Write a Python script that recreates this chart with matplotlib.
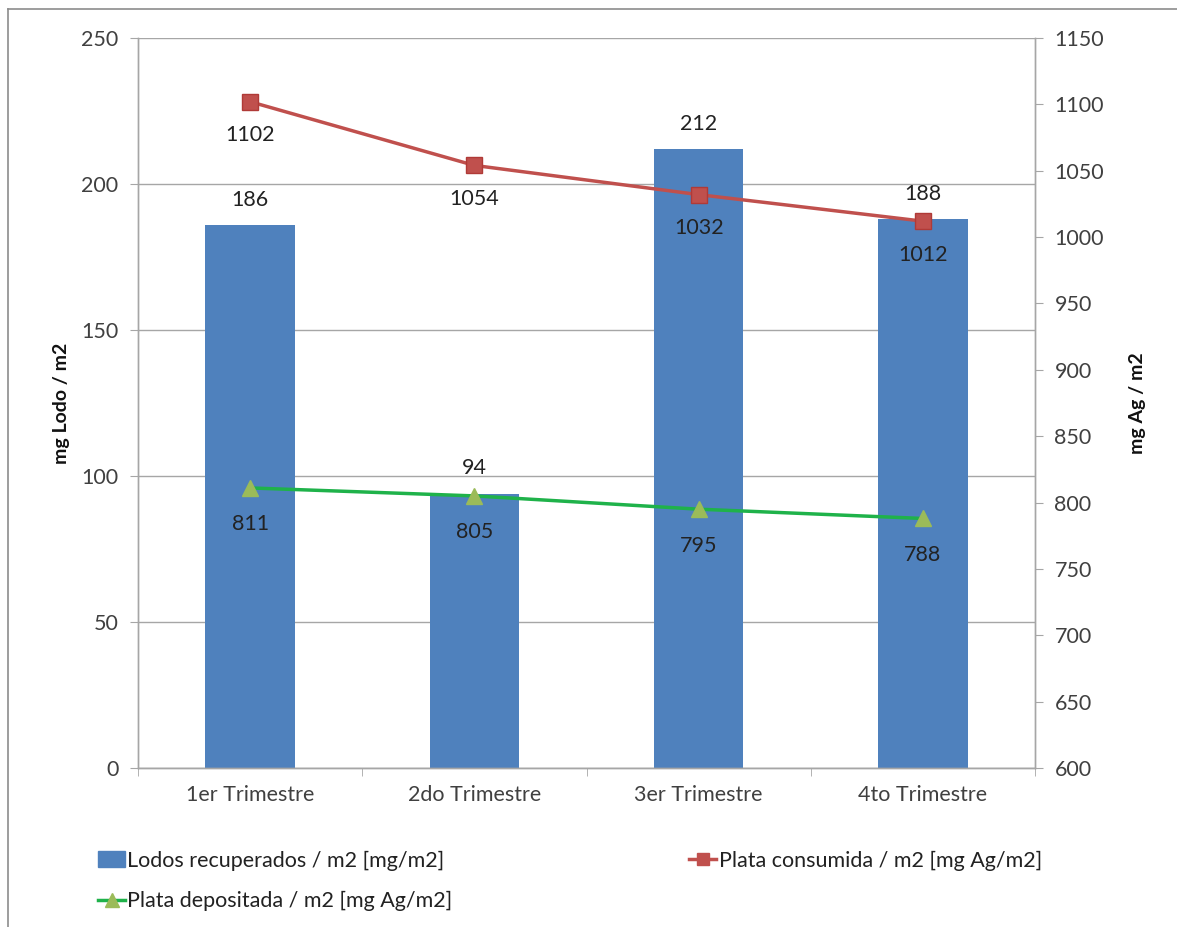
import matplotlib
matplotlib.use("Agg")
import matplotlib.pyplot as plt
import matplotlib.ticker as mticker
from matplotlib.lines import Line2D
import numpy as np

categories = ["1er Trimestre", "2do Trimestre", "3er Trimestre", "4to Trimestre"]
lodos = [186, 94, 212, 188]
plata_consumida = [1102, 1054, 1032, 1012]
plata_depositada = [811, 805, 795, 788]

plt.rcParams["font.family"] = ["Lato", "DejaVu Sans"]
text_color = "#404040"
grid_color = "#a6a6a6"
bar_color = "#4f81bd"
red = "#c0504d"
green = "#1fb24a"
tri_color = "#9bbb59"
fs = 15.5

fig = plt.figure(figsize=(11.77, 9.27), dpi=100)
ax = fig.add_axes([138 / 1177, 1 - 768 / 927, (1035 - 138) / 1177, (768 - 38) / 927])
ax2 = ax.twinx()

x = np.arange(len(categories))

# bars on left axis
ax.bar(x, lodos, width=0.4, color=bar_color, zorder=2)
for xi, v in zip(x, lodos):
    ax.annotate(f"{v}", xy=(xi, v), xytext=(0, 11), textcoords="offset points",
                ha="center", va="bottom", fontsize=fs, color="#222222")

ax.set_ylim(0, 250)
ax.set_xlim(-0.5, len(categories) - 0.5)
ax.yaxis.set_major_locator(mticker.MultipleLocator(50))
ax.grid(axis="y", color=grid_color, linewidth=1, zorder=0)
ax.set_axisbelow(True)
ax.set_xticks(x)
ax.set_xticklabels(categories)
ax.set_xticks(np.arange(len(categories) + 1) - 0.5, minor=True)
ax.tick_params(axis="x", which="major", length=0, pad=12, labelsize=fs, labelcolor=text_color)
ax.tick_params(axis="x", which="minor", length=6, color=grid_color, direction="out")
ax.tick_params(axis="y", length=6, color=grid_color, pad=8, labelsize=fs, labelcolor=text_color)
ax.set_ylabel("mg Lodo / m2", fontsize=14, fontweight="bold", color="#111111", labelpad=8)

# lines on right axis
ax2.plot(x, plata_consumida, color=red, linewidth=2.5, marker="s", markersize=11,
         markerfacecolor=red, markeredgecolor="#b03a37", zorder=4)
ax2.plot(x, plata_depositada, color=green, linewidth=2.5, marker="^", markersize=12,
         markerfacecolor=tri_color, markeredgecolor=tri_color, zorder=4)
for xi, v in zip(x, plata_consumida):
    ax2.annotate(f"{v}", xy=(xi, v), xytext=(0, -17), textcoords="offset points",
                 ha="center", va="top", fontsize=fs, color="#222222")
for xi, v in zip(x, plata_depositada):
    ax2.annotate(f"{v}", xy=(xi, v), xytext=(0, -19), textcoords="offset points",
                 ha="center", va="top", fontsize=fs, color="#222222")

ax2.set_ylim(600, 1150)
ax2.yaxis.set_major_locator(mticker.MultipleLocator(50))
ax2.tick_params(axis="y", length=6, color=grid_color, pad=8, labelsize=fs, labelcolor=text_color)
ax2.set_ylabel("mg Ag / m2", fontsize=14, fontweight="bold", color="#111111", labelpad=18)

for a in (ax, ax2):
    a.spines["top"].set_visible(False)
    for s in ("left", "right", "bottom"):
        a.spines[s].set_color(grid_color)
        a.spines[s].set_linewidth(1)

# legend
handles = [
    plt.Rectangle((0, 0), 1, 1, color=bar_color),
    Line2D([], [], color=green, linewidth=2.5, marker="^", markersize=10,
           markerfacecolor=tri_color, markeredgecolor=tri_color),
    Line2D([], [], color=red, linewidth=2.5, marker="s", markersize=9,
           markerfacecolor=red, markeredgecolor=red),
]
labels = [
    "Lodos recuperados / m2 [mg/m2]",
    "Plata depositada / m2 [mg Ag/m2]",
    "Plata consumida / m2 [mg Ag/m2]",
]
fig.legend(handles, labels, loc="upper left", bbox_to_anchor=(79 / 1177, 1 - 831 / 927),
           ncol=2, frameon=False, fontsize=fs, handlelength=1.25, handletextpad=0.1,
           columnspacing=11.0, labelspacing=0.95, labelcolor="#222222")

# outer chart border
fig.add_artist(Line2D([8 / 1177, 8 / 1177], [0, 1 - 9 / 927], transform=fig.transFigure,
                      color="#8c8c8c", linewidth=1.2))
fig.add_artist(Line2D([8 / 1177, 1], [1 - 9 / 927, 1 - 9 / 927], transform=fig.transFigure,
                      color="#8c8c8c", linewidth=1.2))

fig.savefig("out.png", dpi=100, facecolor="white")
